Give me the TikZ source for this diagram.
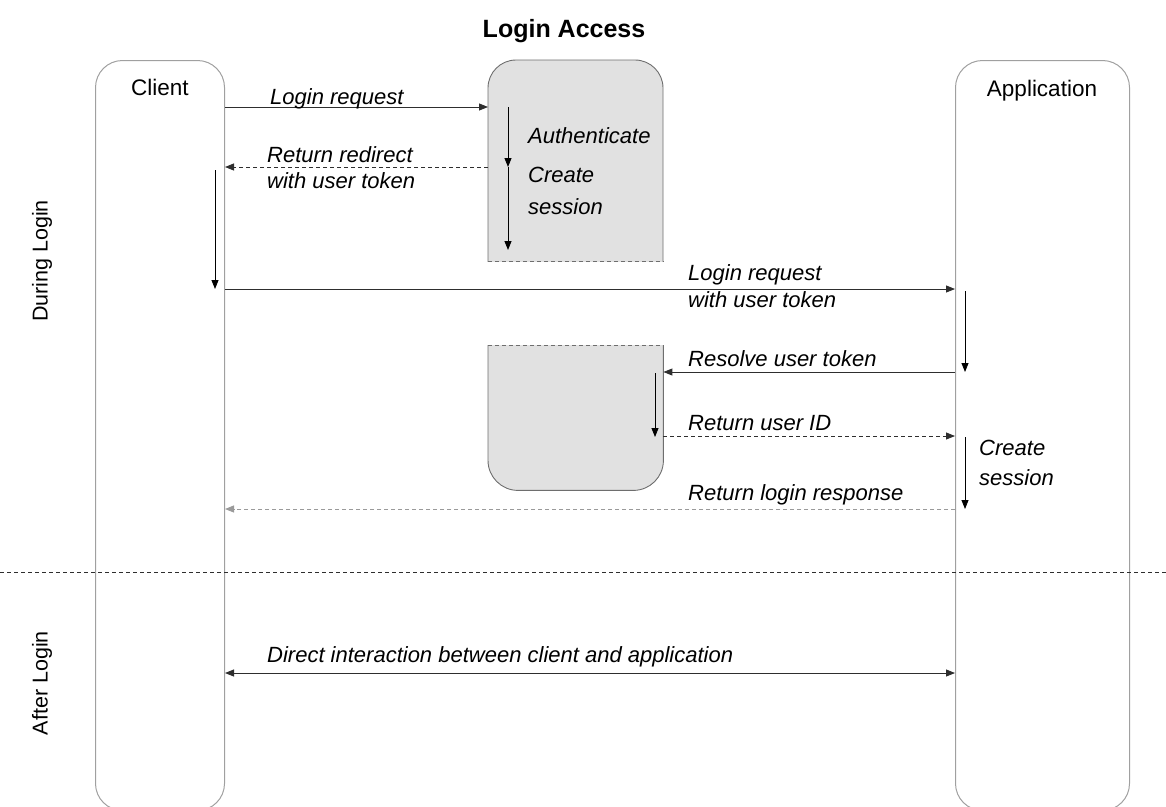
\documentclass[tikz,border=0pt]{standalone}
\usepackage{fontspec}
\setmainfont{Liberation Sans}
\usetikzlibrary{arrows.meta}
\definecolor{lanec}{HTML}{A0A0A0}
\definecolor{boxc}{HTML}{6E6E6E}
\definecolor{boxfill}{HTML}{E1E1E1}
\definecolor{ln}{HTML}{2E2E2E}
\definecolor{lightln}{HTML}{9A9A9A}
\begin{document}
\begin{tikzpicture}[x=1pt,y=-1pt,
  lanebox/.style={draw=lanec, line width=1pt, rounded corners=27pt, inner sep=0pt, anchor=north west},
  region/.style={inner sep=0pt, anchor=north west},
  tip/.style={-{Triangle[length=9pt,width=7pt]}},
  msg/.style={draw=ln, line width=0.9pt, tip},
  ret/.style={msg, dash pattern=on 4pt off 3pt},
  lbl/.style={font=\fontsize{22}{27}\selectfont\itshape, anchor=base west, inner sep=0pt},
  head/.style={font=\fontsize{22.5}{27}\selectfont, anchor=base, inner sep=0pt},
  side/.style={font=\fontsize{21.5}{26}\selectfont, rotate=90, anchor=center, inner sep=0pt},
  title/.style={font=\fontsize{25}{30}\selectfont\bfseries, anchor=base, inner sep=0pt}]
\useasboundingbox (0,0) rectangle (1166,806);

% title
\node[title] (ttl) at (564,37) {Login Access};

% lanes
\node[lanebox, minimum width=129pt, minimum height=750pt] (client) at (95,60) {};
\node[lanebox, minimum width=174pt, minimum height=750pt] (app) at (955,60) {};
\node[head] (clientlbl) at (160,95) {Client};
\node[head] (applbl) at (1042,96) {Application};

% authentication box (top)
\node[region, minimum width=175pt, minimum height=201pt] (auth) at (488,60) {};
\begin{scope}
  \clip (480,50) rectangle (670,261);
  \draw[fill=boxfill, draw=boxc, line width=0.9pt, rounded corners=28pt] (auth.north west) rectangle (663,320);
\end{scope}
\draw[boxc, line width=0.9pt, dash pattern=on 4pt off 3pt] (auth.south west) -- (auth.south east);

% resolve box (bottom)
\node[region, minimum width=175pt, minimum height=145pt] (res) at (488,345) {};
\begin{scope}
  \clip (480,345) rectangle (670,500);
  \draw[fill=boxfill, draw=boxc, line width=0.9pt, rounded corners=30pt] (488,300) rectangle (res.south east);
\end{scope}
\draw[boxc, line width=0.9pt, dash pattern=on 4pt off 3pt] (res.north west) -- (res.north east);

% row coordinates
\coordinate (r1) at (0,107);
\coordinate (r2) at (0,167);
\coordinate (r3) at (0,289);
\coordinate (r4) at (0,372);
\coordinate (r5) at (0,436);
\coordinate (r6) at (0,509);
\coordinate (r7) at (0,673);

% messages
\draw[msg] (client.east |- r1) -- (auth.west |- r1);
\node[lbl] (m1) at (270,104) {Login request};

\draw[ret] (auth.west |- r2) -- (client.east |- r2);
\node[lbl] (m2a) at (267,162) {Return redirect};
\node[lbl] (m2b) at (267,188) {with user token};

\draw[msg] (client.east |- r3) -- (app.west |- r3);
\node[lbl] (m3a) at (688,280) {Login request};
\node[lbl] (m3b) at (688,307) {with user token};

\draw[msg] (app.west |- r4) -- (res.east |- r4);
\node[lbl] (m4) at (688,366) {Resolve user token};

\draw[ret] (res.east |- r5) -- (app.west |- r5);
\node[lbl] (m5) at (688,430) {Return user ID};

\draw[ret, draw=lightln] (app.west |- r6) -- (client.east |- r6);
\node[lbl] (m6) at (688,500) {Return login response};

\draw[msg, {Triangle[length=9pt,width=7pt]}-{Triangle[length=9pt,width=7pt]}] (client.east |- r7) -- (app.west |- r7);
\node[lbl] (m7) at (267,662) {Direct interaction between client and application};

% activity arrows
\coordinate (a1) at (508,107);
\coordinate (a1m) at (508,167);
\coordinate (a1e) at (508,250);
\draw[msg, draw=black] (a1) -- (a1m);
\draw[msg, draw=black] (a1m) -- (a1e);
\node[lbl] (p1) at (528,143) {Authenticate};
\node[lbl] (p2a) at (528,182) {Create};
\node[lbl] (p2b) at (528,214) {session};

\coordinate (c1) at (215,170);
\coordinate (c1e) at (215,289);
\draw[msg, draw=black] (c1) -- (c1e);

\coordinate (b1) at (965,291);
\coordinate (b1e) at (965,372);
\draw[msg, draw=black] (b1) -- (b1e);

\coordinate (d1) at (655,373);
\coordinate (d1e) at (655,437);
\draw[msg, draw=black] (d1) -- (d1e);

\coordinate (b2) at (965,437);
\coordinate (b2e) at (965,509);
\draw[msg, draw=black] (b2) -- (b2e);
\node[lbl] (p3a) at (979,455) {Create};
\node[lbl] (p3b) at (979,485) {session};

% separator
\coordinate (s0) at (0,572);
\coordinate (s1) at (1166,572);
\draw[ln, line width=0.9pt, dash pattern=on 4pt off 3pt] (s0) -- (s1);

% phase labels
\node[side] (ph1) at (42,261) {During Login};
\node[side] (ph2) at (42,683) {After Login};
\end{tikzpicture}
\end{document}
